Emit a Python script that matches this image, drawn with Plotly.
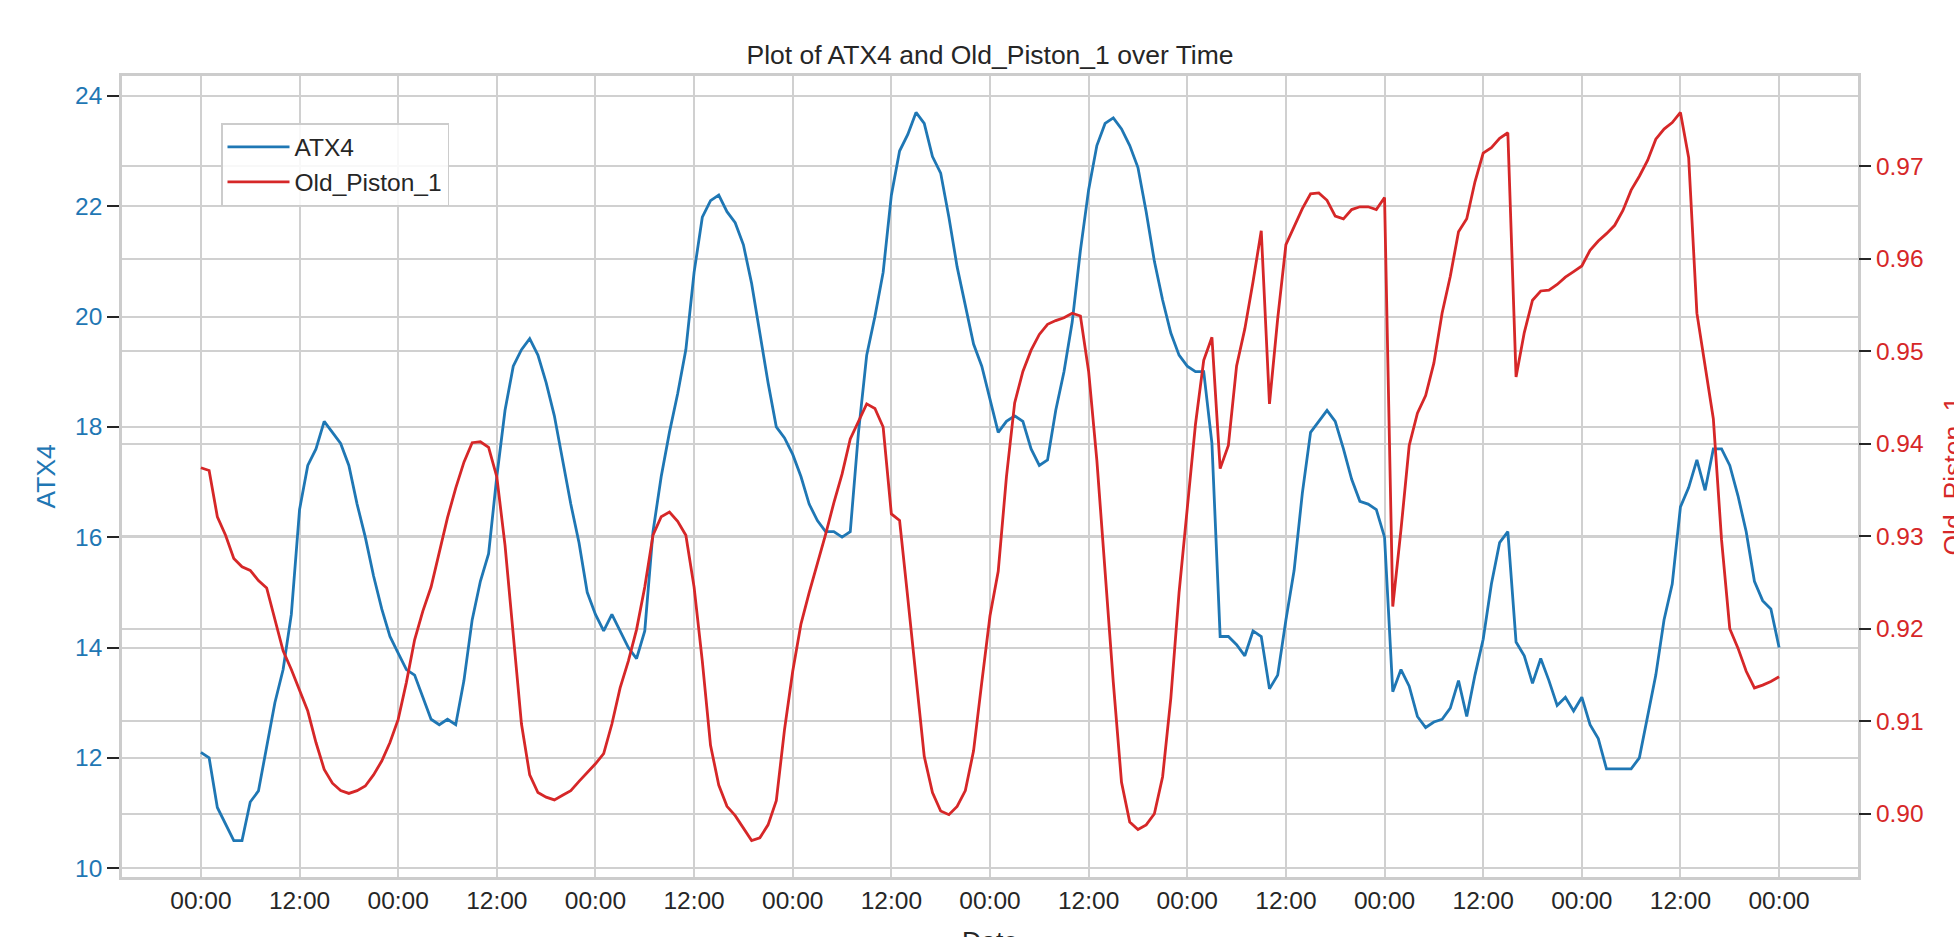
import pandas as pd
import plotly.graph_objects as go

# ---- data (hourly samples, 8 days) ----
start_time = "2023-01-01 00:00"
atx4 = [12.1, 12.0, 11.1, 10.8, 10.5, 10.5, 11.2, 11.4, 12.2, 13.0,
        13.6, 14.6, 16.5, 17.3, 17.6, 18.1, 17.9, 17.7, 17.3, 16.6,
        16.0, 15.3, 14.7, 14.2, 13.9, 13.6, 13.5, 13.1, 12.7, 12.6,
        12.7, 12.6, 13.4, 14.5, 15.2, 15.7, 17.1, 18.3, 19.1, 19.4,
        19.6, 19.3, 18.8, 18.2, 17.4, 16.6, 15.9, 15.0, 14.6, 14.3,
        14.6, 14.3, 14.0, 13.8, 14.3, 16.1, 17.1, 17.9, 18.6, 19.4,
        20.8, 21.8, 22.1, 22.2, 21.9, 21.7, 21.3, 20.6, 19.7, 18.8,
        18.0, 17.8, 17.5, 17.1, 16.6, 16.3, 16.1, 16.1, 16.0, 16.1,
        17.9, 19.3, 20.0, 20.8, 22.2, 23.0, 23.3, 23.7, 23.5, 22.9,
        22.6, 21.8, 20.9, 20.2, 19.5, 19.1, 18.5, 17.9, 18.1, 18.2,
        18.1, 17.6, 17.3, 17.4, 18.3, 19.0, 19.9, 21.2, 22.3, 23.1,
        23.5, 23.6, 23.4, 23.1, 22.7, 21.9, 21.0, 20.3, 19.7, 19.3,
        19.1, 19.0, 19.0, 17.7, 14.2, 14.2, 14.05, 13.85, 14.3, 14.2,
        13.25, 13.5, 14.5, 15.4, 16.8, 17.9, 18.1, 18.3, 18.1, 17.6,
        17.05, 16.65, 16.6, 16.5, 16.0, 13.2, 13.6, 13.3, 12.75, 12.55,
        12.65, 12.7, 12.9, 13.4, 12.75, 13.5, 14.15, 15.15, 15.9, 16.1,
        14.1, 13.85, 13.35, 13.8, 13.4, 12.95, 13.1, 12.85, 13.1, 12.6,
        12.35, 11.8, 11.8, 11.8, 11.8, 12.0, 12.75, 13.5, 14.5, 15.15,
        16.55, 16.9, 17.4, 16.85, 17.6, 17.6, 17.3, 16.75, 16.1, 15.2,
        14.85, 14.7, 14.0]

old_piston_1 = [0.9374, 0.9371, 0.9321, 0.9301, 0.9276, 0.9267, 0.9263, 0.9252, 0.9244, 0.9210,
                0.9176, 0.9156, 0.9134, 0.9111, 0.9077, 0.9048, 0.9033, 0.9025, 0.9022, 0.9025,
                0.9030, 0.9042, 0.9057, 0.9077, 0.9102, 0.9142, 0.9188, 0.9219, 0.9245, 0.9282,
                0.9320, 0.9352, 0.9380, 0.9401, 0.9402, 0.9396, 0.9364, 0.9290, 0.9193, 0.9097,
                0.9042, 0.9023, 0.9018, 0.9015, 0.9020, 0.9025, 0.9035, 0.9044, 0.9054, 0.9065,
                0.9097, 0.9136, 0.9165, 0.9199, 0.9245, 0.9301, 0.9321, 0.9326, 0.9316, 0.9301,
                0.9245, 0.9165, 0.9074, 0.9031, 0.9008, 0.8998, 0.8985, 0.8971, 0.8974, 0.8988,
                0.9014, 0.9091, 0.9154, 0.9205, 0.9239, 0.9270, 0.9302, 0.9336, 0.9367, 0.9405,
                0.9424, 0.9443, 0.9438, 0.9418, 0.9324, 0.9317, 0.9233, 0.9148, 0.9062, 0.9023,
                0.9003, 0.8999, 0.9008, 0.9025, 0.9068, 0.9142, 0.9214, 0.9262, 0.9364, 0.9444,
                0.9478, 0.9501, 0.9518, 0.9529, 0.9533, 0.9536, 0.9541, 0.9538, 0.9478, 0.9382,
                0.9262, 0.9142, 0.9034, 0.8991, 0.8983, 0.8988, 0.9000, 0.9040, 0.9125, 0.9239,
                0.9330, 0.9421, 0.9490, 0.9515, 0.9373, 0.9398, 0.9484, 0.9524, 0.9575, 0.9630,
                0.9443, 0.9535, 0.9615, 0.9635, 0.9654, 0.9670, 0.9671, 0.9663, 0.9646, 0.9643,
                0.9653, 0.9656, 0.9656, 0.9653, 0.9666, 0.9224, 0.9307, 0.9398, 0.9433, 0.9452,
                0.9487, 0.9541, 0.9581, 0.9629, 0.9643, 0.9683, 0.9714, 0.9720, 0.9730, 0.9736,
                0.9472, 0.9520, 0.9555, 0.9565, 0.9566, 0.9572, 0.9580, 0.9586, 0.9592, 0.9609,
                0.9619, 0.9627, 0.9636, 0.9652, 0.9674, 0.9689, 0.9706, 0.9729, 0.9740, 0.9747,
                0.9758, 0.9709, 0.9541, 0.9484, 0.9427, 0.9296, 0.9200, 0.9179, 0.9154, 0.9136,
                0.9139, 0.9143, 0.9148]

times = pd.date_range(start_time, periods=len(atx4), freq="h")

BLUE = "#1f77b4"
RED = "#d62728"
DARK = "#262626"
GRID = "#d0d0d0"
FONT = "Liberation Sans, Arial, sans-serif"
TICK_SIZE = 24.5
LABEL_SIZE = 26.5

def padded(vals, frac=0.05):
    lo, hi = min(vals), max(vals)
    d = (hi - lo) * frac
    return [lo - d, hi + d]

span = times[-1] - times[0]
xrange_ = [times[0] - span * 0.05, times[-1] + span * 0.05]

fig = go.Figure()
fig.add_trace(go.Scatter(x=times, y=atx4, name="ATX4", mode="lines",
                         line=dict(color=BLUE, width=2.8), yaxis="y"))
fig.add_trace(go.Scatter(x=times, y=old_piston_1, name="Old_Piston_1", mode="lines",
                         line=dict(color=RED, width=2.8), yaxis="y2"))

fig.update_layout(
    width=1954, height=937,
    margin=dict(l=122, r=96, t=76, b=60, autoexpand=False),
    paper_bgcolor="white", plot_bgcolor="white",
    font=dict(family=FONT, color=DARK, size=TICK_SIZE),
    title=dict(text="Plot of ATX4 and Old_Piston_1 over Time", x=0.5, xref="paper",
               xanchor="center", y=1 - 55 / 937, yref="container", yanchor="middle",
               font=dict(size=LABEL_SIZE, color=DARK)),
    showlegend=True,
    legend=dict(x=(221 - 122) / (1858 - 122), y=1 - (123 - 76) / (877 - 76),
                xanchor="left", yanchor="top",
                bgcolor="rgba(255,255,255,0.85)", bordercolor="#cccccc", borderwidth=1.5,
                font=dict(size=TICK_SIZE, color=DARK), itemwidth=62),
    xaxis=dict(type="date", range=xrange_, tickformat="%H:%M",
               tick0=times[0], dtick=12 * 3600 * 1000,
               showgrid=True, gridcolor=GRID, gridwidth=1.8,
               showline=True, linecolor="#cccccc", linewidth=2.5, mirror=True,
               ticks="", zeroline=False,
               tickfont=dict(size=TICK_SIZE, color=DARK)),
    yaxis=dict(range=padded(atx4), tickmode="array",
               tickvals=[10, 12, 14, 16, 18, 20, 22, 24],
               showgrid=True, gridcolor=GRID, gridwidth=1.8,
               showline=True, linecolor="#cccccc", linewidth=2.5, mirror=True,
               ticks="outside", ticklen=12, tickwidth=2, tickcolor=DARK,
               zeroline=False, tickfont=dict(size=TICK_SIZE, color=BLUE)),
    yaxis2=dict(range=padded(old_piston_1), overlaying="y", side="right",
                tickmode="linear", tick0=0.90, dtick=0.01, tickformat=".2f",
                showgrid=True, gridcolor=GRID, gridwidth=1.8,
                showline=False,
                ticks="outside", ticklen=12, tickwidth=2, tickcolor=DARK,
                zeroline=False, tickfont=dict(size=TICK_SIZE, color=RED)),
    annotations=[
        dict(text="Date", xref="paper", yref="paper", x=0.5, y=0, xanchor="center",
             yanchor="top", yshift=-47, showarrow=False, font=dict(size=LABEL_SIZE, color=DARK)),
        dict(text="ATX4", xref="paper", yref="paper", x=0, y=0.5, xanchor="center",
             yanchor="middle", xshift=-77, textangle=-90, showarrow=False,
             font=dict(size=LABEL_SIZE, color=BLUE)),
        dict(text="Old_Piston_1", xref="paper", yref="paper", x=1, y=0.5, xanchor="center",
             yanchor="middle", xshift=94, textangle=-90, showarrow=False,
             font=dict(size=LABEL_SIZE, color=RED)),
    ],
)

fig.write_html("out.html")
